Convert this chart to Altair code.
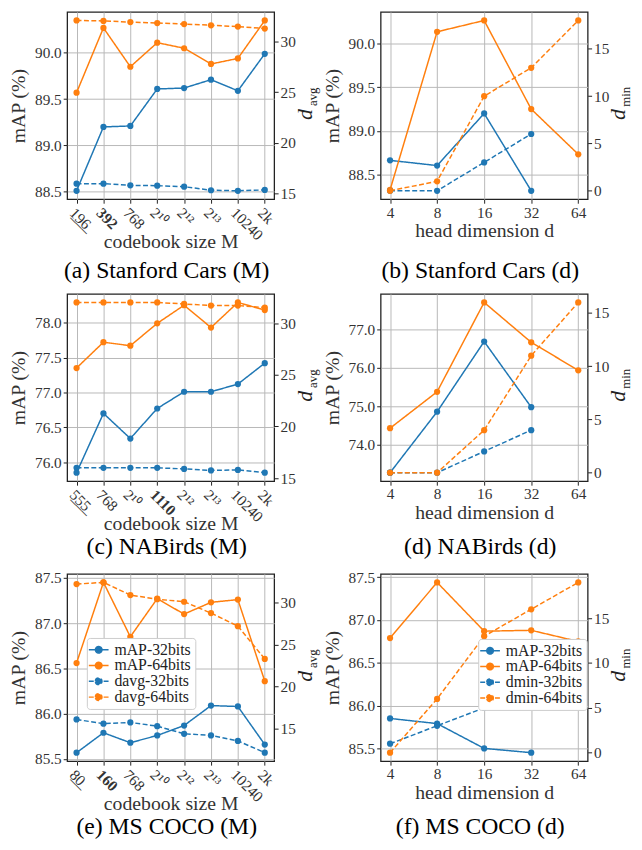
import altair as alt
import pandas as pd

SERIF = "Liberation Serif"
BLUE = "#1f77b4"
ORANGE = "#ff7f0e"
W, H = 210, 190

# ---------------- data ----------------
# (a) Stanford Cars, codebook size M
cars_M = ["196", "392", "768", "2¹⁰", "2¹²", "2¹³", "10240", "2k"]
cars_M_map32 = [88.51, 89.20, 89.21, 89.61, 89.62, 89.71, 89.59, 89.99]
cars_M_map64 = [89.57, 90.27, 89.85, 90.11, 90.05, 89.88, 89.94, 90.35]
cars_M_davg32 = [16.0, 16.0, 15.83, 15.8, 15.7, 15.35, 15.3, 15.38]
cars_M_davg64 = [32.04, 32.0, 31.88, 31.79, 31.69, 31.57, 31.44, 31.25]

# (b) Stanford Cars, head dimension d
heads = ["4", "8", "16", "32", "64"]
cars_d_map32 = [88.66, 88.60, 89.20, 88.31, None]
cars_d_map64 = [88.32, 90.14, 90.27, 89.25, 88.73]
cars_d_dmin32 = [0, 0, 3, 6, None]
cars_d_dmin64 = [0, 1, 10, 13, 18]

# (c) NABirds, codebook size M
birds_M = ["555", "768", "2¹⁰", "1110", "2¹²", "2¹³", "10240", "2k"]
birds_M_map32 = [75.85, 76.70, 76.34, 76.77, 77.01, 77.01, 77.12, 77.42]
birds_M_map64 = [77.35, 77.72, 77.67, 77.99, 78.25, 77.93, 78.29, 78.18]
birds_M_davg32 = [16.0, 16.0, 16.0, 16.0, 15.9, 15.75, 15.8, 15.53]
birds_M_davg64 = [32.0, 32.0, 32.0, 32.0, 31.85, 31.7, 31.7, 31.5]

# (d) NABirds, head dimension d
birds_d_map32 = [73.27, 74.86, 76.69, 74.98, None]
birds_d_map64 = [74.43, 75.38, 77.71, 76.67, 75.94]
birds_d_dmin32 = [0, 0, 2, 4, None]
birds_d_dmin64 = [0, 0, 4, 11, 16]

# (e) MS COCO, codebook size M
coco_M = ["80", "160", "768", "2¹⁰", "2¹²", "2¹³", "10240", "2k"]
coco_M_map32 = [85.57, 85.79, 85.68, 85.76, 85.87, 86.09, 86.08, 85.66]
coco_M_map64 = [86.56, 87.45, 86.85, 87.27, 87.10, 87.23, 87.26, 86.36]
coco_M_davg32 = [16.1, 15.6, 15.75, 15.3, 14.4, 14.2, 13.55, 12.15]
coco_M_davg64 = [32.2, 32.4, 30.9, 30.4, 30.1, 28.75, 27.2, 23.3]

# (f) MS COCO, head dimension d
coco_d_map32 = [85.85, 85.79, 85.50, 85.45, None]
coco_d_map64 = [86.79, 87.44, 86.87, 86.88, 86.75]
coco_d_dmin32 = [1, 3, 5, 7, None]
coco_d_dmin64 = [0, 6, 13, 16, 19]

# tick values
ticks_a_left = [88.5, 89.0, 89.5, 90.0]
ticks_c_left = [76.0, 76.5, 77.0, 77.5, 78.0]
ticks_d_left = [74.0, 75.0, 76.0, 77.0]
ticks_e_left = [85.5, 86.0, 86.5, 87.0, 87.5]
ticks_davg = [15, 20, 25, 30]
ticks_dmin = [0, 5, 10, 15]

SYM = "M-1.5,0H1.5M-0.5,0A0.5,0.5,0,1,1,0.5,0A0.5,0.5,0,1,1,-0.5,0Z"


def build_long(cats, s1, s2, names):
    rows = []
    for name, vals in zip(names, (s1, s2)):
        for c, v in zip(cats, vals):
            if v is not None:
                rows.append({"x": c, "series": name, "value": v})
    return pd.DataFrame(rows)


def padded(vals):
    v = [x for x in vals if x is not None]
    lo, hi = min(v), max(v)
    m = 0.05 * (hi - lo)
    return [lo - m, hi + m]


def underline(s):
    return "".join(ch + "\u0332" for ch in s)


def panel(cats, m32, m64, d32, d64, dname, lticks, rticks, xtitle, caption,
          angle, pad, cap_dy, bold=None, under=None, legend_xy=None):
    names_l = ["mAP-32bits", "mAP-64bits"]
    names_r = [f"{dname}-32bits", f"{dname}-64bits"]
    dom = names_l + names_r
    if legend_xy is not None:
        leg = alt.Legend(title=None, orient="none", legendX=legend_xy[0],
                         legendY=legend_xy[1], symbolType=SYM, symbolSize=178,
                         symbolStrokeWidth=1.5, labelOffset=8, padding=4,
                         rowPadding=0, fillColor="white", strokeColor="#cccccc",
                         cornerRadius=3, zindex=2)
    else:
        leg = None
    color = alt.Color("series:N", scale=alt.Scale(domain=dom, range=[BLUE, ORANGE, BLUE, ORANGE]),
                      legend=leg)
    dash = alt.StrokeDash("series:N", scale=alt.Scale(domain=dom, range=[[1, 0], [1, 0], [5, 2.5], [5, 2.5]]),
                          legend=leg)

    axis_kw = dict(title=xtitle, labelAngle=angle, grid=True, titleBaseline="top",
                   titleY=(33 if angle else 22))
    if under is not None:
        axis_kw["labelExpr"] = f"datum.value === '{under}' ? '{underline(under)}' : datum.label"
    if bold is not None:
        axis_kw["labelFontWeight"] = {"condition": {"test": f"datum.value === '{bold}'", "value": "bold"},
                                      "value": "normal"}
    x = alt.X("x:N", sort=cats, scale=alt.Scale(type="point", padding=pad), axis=alt.Axis(**axis_kw))

    dl = build_long(cats, m32, m64, names_l)
    yl = alt.Y("value:Q", scale=alt.Scale(domain=padded(m32 + m64), nice=False, zero=False),
               axis=alt.Axis(title="mAP (%)", orient="left", values=lticks, format=".1f", grid=True,
                             titlePadding=6))
    bl = alt.Chart(dl).encode(x=x, y=yl, color=color)
    left = alt.layer(bl.mark_line(strokeWidth=1.5).encode(strokeDash=dash),
                     bl.mark_point(filled=True, size=40, opacity=1))

    dr = build_long(cats, d32, d64, names_r)
    yr = alt.Y("value:Q", scale=alt.Scale(domain=padded(d32 + d64), nice=False, zero=False),
               axis=alt.Axis(title=None, orient="right", values=rticks, format="d", grid=False))
    br = alt.Chart(dr).encode(x=x, y=yr, color=color)
    right = alt.layer(br.mark_line(strokeWidth=1.5).encode(strokeDash=dash),
                      br.mark_point(filled=True, size=40, opacity=1))

    one = alt.Data(values=[{"k": 1}])
    t_d = alt.Chart(one).mark_text(text="d", angle=270, font=SERIF, fontSize=22, fontStyle="italic",
                                   align="center", baseline="middle", color="#222").encode(
        x=alt.value(W + 31), y=alt.value(H / 2 + 9))
    t_sub = alt.Chart(one).mark_text(text=dname[1:], angle=270, font=SERIF, fontSize=13,
                                     align="center", baseline="middle", color="#222").encode(
        x=alt.value(W + 39), y=alt.value(H / 2 - 9))
    t_cap = alt.Chart(one).mark_text(text=caption, font=SERIF, fontSize=24, align="center",
                                     baseline="middle", color="black").encode(
        x=alt.value(W / 2 - 4), y=alt.value(H + cap_dy))

    return alt.layer(left, right, t_d, t_sub, t_cap).resolve_scale(y="independent").properties(
        width=W, height=H)


pa = panel(cars_M, cars_M_map32, cars_M_map64, cars_M_davg32, cars_M_davg64, "davg",
           ticks_a_left, ticks_davg, "codebook size M", "(a) Stanford Cars (M)", 45, 0.35, 73,
           bold="392", under="196")
pb = panel(heads, cars_d_map32, cars_d_map64, cars_d_dmin32, cars_d_dmin64, "dmin",
           ticks_a_left, ticks_dmin, "head dimension d", "(b) Stanford Cars (d)", 0, 0.2, 73)
pc = panel(birds_M, birds_M_map32, birds_M_map64, birds_M_davg32, birds_M_davg64, "davg",
           ticks_c_left, ticks_davg, "codebook size M", "(c) NABirds (M)", 45, 0.35, 67,
           bold="1110", under="555")
pd_ = panel(heads, birds_d_map32, birds_d_map64, birds_d_dmin32, birds_d_dmin64, "dmin",
            ticks_d_left, ticks_dmin, "head dimension d", "(d) NABirds (d)", 0, 0.2, 67)
pe = panel(coco_M, coco_M_map32, coco_M_map64, coco_M_davg32, coco_M_davg64, "davg",
           ticks_e_left, ticks_davg, "codebook size M", "(e) MS COCO (M)", 45, 0.35, 67,
           bold="160", under="80", legend_xy=(20, 65))
pf = panel(heads, coco_d_map32, coco_d_map64, coco_d_dmin32, coco_d_dmin64, "dmin",
           ticks_e_left, ticks_dmin, "head dimension d", "(f) MS COCO (d)", 0, 0.2, 67,
           legend_xy=(99, 66))

ind = dict(color="independent", strokeDash="independent")
row1 = alt.hconcat(pa, pb, spacing=1).resolve_scale(**ind)
row2 = alt.hconcat(pc, pd_, spacing=1).resolve_scale(**ind)
row3 = alt.hconcat(pe, pf, spacing=1).resolve_scale(**ind)

chart = alt.vconcat(row1, row2, row3, spacing=9).resolve_scale(**ind).properties(
    padding={"left": 0, "top": -3, "right": 0, "bottom": 0}
).configure(font=SERIF).configure_view(
    stroke="#222", strokeWidth=1.3
).configure_axis(
    labelFont=SERIF, labelFontSize=15.5, labelColor="#333", titleFont=SERIF, titleFontSize=20,
    titleFontWeight="normal", titleColor="#333", gridColor="#b8b8b8", gridWidth=1,
    tickColor="#222", tickSize=4, domain=False, labelPadding=2
).configure_legend(
    labelFont=SERIF, labelFontSize=16, labelColor="#222"
)

chart.save("out.html", embed_options={"renderer": "svg", "actions": False})
